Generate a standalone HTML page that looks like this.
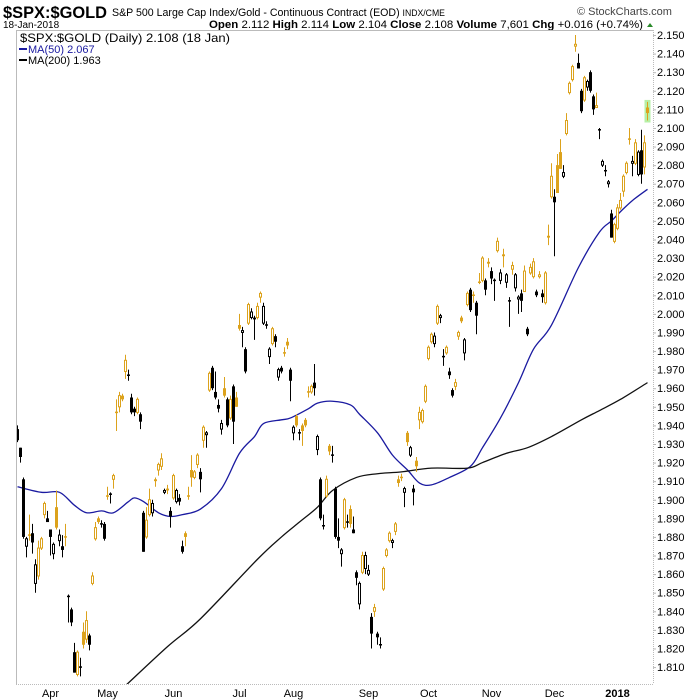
<!DOCTYPE html>
<html><head><meta charset="utf-8"><style>
body{margin:0;background:#fff;}
svg{display:block;font-family:"Liberation Sans",sans-serif;}
</style></head><body>
<svg id="chart" width="700" height="700" viewBox="0 0 700 700">
  <rect x="0" y="0" width="700" height="700" fill="#fff"/>
  <text x="3" y="18" font-size="17" font-weight="bold" fill="#000" textLength="104" lengthAdjust="spacingAndGlyphs">$SPX:$GOLD</text>
  <text x="112" y="16" font-size="11" fill="#000" textLength="333" lengthAdjust="spacingAndGlyphs">S&amp;P 500 Large Cap Index/Gold - Continuous Contract (EOD) <tspan font-size="9">INDX/CME</tspan></text>
  <text x="577" y="15" font-size="11" fill="#444">© StockCharts.com</text>
  <text x="3" y="28" font-size="10" fill="#000">18-Jan-2018</text>
  <text x="643" y="28" font-size="11" fill="#000" text-anchor="end" textLength="434" lengthAdjust="spacingAndGlyphs"><tspan font-weight="bold">Open</tspan> 2.112 <tspan font-weight="bold">High</tspan> 2.114 <tspan font-weight="bold">Low</tspan> 2.104 <tspan font-weight="bold">Close</tspan> 2.108 <tspan font-weight="bold">Volume</tspan> 7,601 <tspan font-weight="bold">Chg</tspan> +0.016 (+0.74%)</text>
  <polygon points="647,27 653,27 650,23" fill="#2a8a2a"/>
  <line x1="16" y1="30.5" x2="653" y2="30.5" stroke="#bbb"/>
  <line x1="16.5" y1="30" x2="16.5" y2="684" stroke="#bbb"/>
  <line x1="16" y1="684.5" x2="653" y2="684.5" stroke="#bbb" stroke-dasharray="1,1"/>
  <line x1="653.5" y1="30" x2="653.5" y2="684" stroke="#bbb" stroke-dasharray="1,1"/>
  <g id="yaxis"></g>
  <g id="xaxis"></g>
  <defs><clipPath id="plotclip"><rect x="17" y="31" width="636" height="653"/></clipPath></defs>
  <g clip-path="url(#plotclip)">
    <rect id="lasthl" fill="#b6f0a6"/>
    <g id="mas"></g>
    <g id="candles"></g>
  </g>
  <g>
    <text x="20" y="42" font-size="12" font-family="Liberation Sans" fill="#000" textLength="210" lengthAdjust="spacingAndGlyphs">$SPX:$GOLD (Daily) 2.108 (18 Jan)</text>
    <line x1="19" y1="49" x2="27" y2="49" stroke="#1a1aa0" stroke-width="2"/>
    <text x="28" y="53" font-size="11" fill="#1a1aa0">MA(50) 2.067</text>
    <line x1="19" y1="60" x2="27" y2="60" stroke="#000" stroke-width="2"/>
    <text x="28" y="64" font-size="11" fill="#000">MA(200) 1.963</text>
  </g>
</svg>
<script>
const opens=[1.938,1.928,1.911,1.875,1.881,1.882,1.855,1.859,1.874,1.892,
1.890,1.884,1.871,1.896,1.878,1.875,1.880,1.848,1.841,1.818,
1.806,1.810,1.829,1.825,1.827,1.855,1.879,1.890,1.887,1.887,
1.902,1.903,1.911,1.947,1.950,1.956,1.969,1.967,1.955,1.949,
1.947,1.946,1.893,1.880,1.892,1.893,1.911,1.916,1.918,1.904,
1.906,1.894,1.901,1.899,1.901,1.875,1.882,1.902,1.916,1.912,
1.919,1.915,1.932,1.935,1.959,1.971,1.958,1.951,1.938,1.960,
1.954,1.944,1.961,1.955,1.994,1.990,1.981,1.995,1.998,1.998,
1.998,2.009,1.995,1.994,1.977,1.984,1.988,1.966,1.971,1.979,
1.985,1.970,1.936,1.945,1.936,1.940,1.943,1.958,1.958,1.963,
1.927,1.911,1.886,1.902,1.929,1.924,1.906,1.880,1.871,1.885,
1.888,1.895,1.884,1.861,1.844,1.861,1.863,1.860,1.837,1.840,
1.828,1.822,1.852,1.870,1.878,1.877,1.883,1.911,1.912,1.904,
1.936,1.924,1.906,1.921,1.943,1.942,1.953,1.976,1.985,1.984,
1.995,1.998,1.977,1.979,1.969,1.959,1.961,1.988,1.998,1.979,
2.005,2.013,2.010,2.006,2.017,2.018,2.018,2.028,2.023,2.018,
2.034,2.018,2.032,2.017,2.007,2.024,2.014,2.008,2.011,2.012,
1.992,2.022,2.020,2.012,2.020,2.011,2.006,2.042,2.063,2.063,
2.080,2.087,2.074,2.097,2.119,2.126,2.144,2.135,2.120,2.115,
2.122,2.130,2.117,2.111,2.099,2.080,2.077,2.070,2.054,2.039,
2.046,2.057,2.066,2.076,2.094,2.081,2.081,2.075,2.088,2.079,2.111];
const highs=[1.940,1.928,1.912,1.880,1.892,1.887,1.868,1.878,1.880,1.899,
1.894,1.884,1.877,1.905,1.884,1.881,1.887,1.849,1.842,1.823,
1.819,1.815,1.834,1.840,1.828,1.861,1.888,1.891,1.889,1.888,
1.907,1.904,1.914,1.954,1.958,1.957,1.978,1.970,1.957,1.950,
1.955,1.947,1.894,1.896,1.906,1.900,1.912,1.920,1.925,1.906,
1.908,1.896,1.914,1.906,1.903,1.878,1.883,1.907,1.924,1.916,
1.925,1.917,1.940,1.937,1.969,1.972,1.969,1.954,1.943,1.966,
1.955,1.956,1.962,1.958,2.000,1.993,1.982,2.006,2.003,1.999,
2.006,2.012,2.006,1.996,1.982,1.993,1.989,1.971,1.972,1.982,
1.987,1.971,1.940,1.946,1.938,1.941,1.944,1.961,1.962,1.973,
1.935,1.912,1.892,1.913,1.930,1.929,1.907,1.890,1.874,1.901,
1.892,1.897,1.891,1.862,1.856,1.872,1.872,1.865,1.839,1.844,
1.829,1.826,1.864,1.874,1.883,1.879,1.888,1.913,1.914,1.907,
1.937,1.929,1.908,1.923,1.950,1.949,1.962,1.983,1.990,1.990,
2.005,2.000,1.981,1.983,1.971,1.960,1.965,1.991,1.999,1.987,
2.012,2.014,2.012,2.007,2.022,2.031,2.019,2.030,2.025,2.019,
2.041,2.024,2.035,2.022,2.009,2.028,2.022,2.010,2.013,2.026,
1.993,2.027,2.030,2.013,2.023,2.013,2.023,2.048,2.081,2.067,
2.086,2.094,2.080,2.108,2.125,2.134,2.150,2.140,2.121,2.128,
2.126,2.131,2.118,2.119,2.100,2.083,2.080,2.072,2.056,2.049,
2.059,2.065,2.075,2.082,2.100,2.085,2.094,2.088,2.099,2.096,2.114];
const lows=[1.931,1.920,1.879,1.869,1.878,1.871,1.850,1.857,1.873,1.890,
1.888,1.870,1.868,1.884,1.875,1.869,1.875,1.834,1.832,1.807,
1.805,1.805,1.820,1.823,1.819,1.854,1.878,1.887,1.885,1.878,
1.900,1.898,1.906,1.937,1.947,1.953,1.965,1.964,1.946,1.945,
1.946,1.938,1.872,1.879,1.891,1.891,1.907,1.913,1.916,1.903,
1.903,1.885,1.900,1.898,1.897,1.871,1.875,1.900,1.907,1.911,
1.917,1.904,1.928,1.928,1.958,1.959,1.954,1.947,1.935,1.955,
1.939,1.943,1.930,1.950,1.991,1.982,1.968,1.994,1.997,1.986,
1.997,2.006,1.994,1.992,1.973,1.983,1.982,1.964,1.968,1.977,
1.981,1.953,1.932,1.939,1.932,1.929,1.939,1.955,1.957,1.956,
1.924,1.889,1.884,1.901,1.924,1.920,1.879,1.874,1.864,1.884,
1.885,1.885,1.882,1.854,1.841,1.860,1.860,1.859,1.820,1.837,
1.822,1.820,1.851,1.869,1.877,1.874,1.881,1.907,1.910,1.896,
1.929,1.923,1.897,1.915,1.938,1.941,1.952,1.975,1.984,1.982,
1.994,1.995,1.972,1.978,1.965,1.955,1.959,1.986,1.995,1.975,
2.004,2.001,2.006,1.989,2.016,2.017,2.010,2.025,2.016,2.007,
2.033,2.016,2.025,2.014,1.993,2.021,2.012,2.000,2.001,2.012,
1.988,2.021,2.019,2.009,2.019,2.006,2.005,2.037,2.062,2.031,
2.065,2.078,2.073,2.096,2.118,2.125,2.141,2.132,2.108,2.114,
2.120,2.119,2.107,2.111,2.094,2.079,2.074,2.068,2.041,2.038,
2.045,2.056,2.063,2.075,2.091,2.074,2.080,2.074,2.070,2.075,2.104];
const closes=[1.932,1.923,1.880,1.879,1.881,1.877,1.865,1.874,1.879,1.898,
1.888,1.880,1.876,1.885,1.881,1.873,1.880,1.848,1.834,1.807,
1.818,1.810,1.822,1.835,1.822,1.859,1.885,1.888,1.887,1.879,
1.902,1.903,1.913,1.947,1.956,1.954,1.975,1.967,1.947,1.947,
1.954,1.942,1.872,1.889,1.900,1.898,1.910,1.919,1.922,1.905,
1.905,1.891,1.913,1.905,1.899,1.872,1.880,1.902,1.912,1.915,
1.924,1.911,1.939,1.936,1.968,1.960,1.955,1.949,1.941,1.956,
1.940,1.954,1.942,1.950,1.992,1.991,1.969,2.005,2.001,1.997,
2.004,2.011,2.004,1.994,1.981,1.992,1.985,1.970,1.969,1.979,
1.983,1.964,1.939,1.940,1.936,1.937,1.940,1.958,1.961,1.960,
1.934,1.890,1.886,1.911,1.926,1.924,1.880,1.878,1.873,1.900,
1.888,1.887,1.882,1.858,1.855,1.870,1.870,1.862,1.828,1.842,
1.826,1.822,1.863,1.873,1.882,1.878,1.887,1.909,1.912,1.906,
1.931,1.928,1.904,1.918,1.947,1.948,1.961,1.982,1.989,1.988,
2.004,1.999,1.977,1.982,1.967,1.956,1.963,1.990,1.996,1.986,
2.011,2.002,2.010,1.999,2.017,2.030,2.013,2.027,2.019,2.018,
2.039,2.022,2.031,2.021,2.007,2.026,2.021,2.009,2.007,2.023,
1.989,2.025,2.028,2.010,2.021,2.009,2.022,2.041,2.074,2.060,
2.065,2.078,2.076,2.104,2.124,2.133,2.145,2.132,2.109,2.127,
2.125,2.120,2.110,2.112,2.099,2.082,2.077,2.071,2.041,2.048,
2.057,2.061,2.074,2.081,2.094,2.082,2.092,2.087,2.075,2.092,2.108];
const upColors=[0,0,0,0,1,0,0,1,1,1, 0,0,0,1,0,0,1,0,0,0, 1,0,1,1,0,1,1,1,0,0,
1,0,1,1,1,1,1,0,0,0, 1,0,0,1,1,0,1,1,1,0, 1,0,1,0,0,0,1,1,1,1,
1,0,1,0,1,0,0,0,0,1, 0,1,0,1,1,0,0,1,0,0, 1,1,0,0,0,1,0,0,0,1,
1,0,0,1,0,1,1,1,1,0, 0,0,0,1,1,0,0,0,0,1, 0,1,0,0,0,1,0,0,0,1,
0,0,1,1,1,0,1,1,1,0, 1,0,0,1,1,1,1,1,1,0, 1,0,0,1,0,0,1,1,1,0,
1,0,1,0,1,1,0,1,0,0, 1,0,1,0,0,1,0,0,0,1, 0,1,1,0,1,0,1,1,1,0,
1,1,0,1,1,1,1,0,0,1, 0,0,0,1,0,0,0,0,0,1, 1,1,1,1,1,0,1,0,0,1,1];
const ma50Days=[0,8,14,19,23,28,32,37,39,42,47,51,55,61,68,74,79,82,88,91,97,100,105,111,114,120,125,130,134,138,144,151,155,161,167,172,178,187,194,198,201,205,210];
const ma50Values=[1.907,1.904,1.904,1.897,1.893,1.894,1.893,1.899,1.901,1.899,1.893,1.891,1.892,1.895,1.906,1.925,1.934,1.941,1.943,1.944,1.949,1.952,1.953,1.951,1.946,1.936,1.924,1.916,1.909,1.908,1.912,1.918,1.928,1.944,1.963,1.981,1.994,2.025,2.044,2.050,2.055,2.061,2.067];
const ma200Days=[36,50,61,80,88,94,100,105,113,120,128,138,150,155,163,170,178,188,194,201,210];
const ma200Values=[1.800,1.821,1.836,1.868,1.880,1.888,1.896,1.905,1.912,1.914,1.915,1.917,1.917,1.920,1.925,1.928,1.934,1.943,1.948,1.954,1.963];
const yTicks=[1.81,1.82,1.83,1.84,1.85,1.86,1.87,1.88,1.89,1.90,1.91,1.92,1.93,1.94,1.95,1.96,1.97,1.98,1.99,2.00,2.01,2.02,2.03,2.04,2.05,2.06,2.07,2.08,2.09,2.10,2.11,2.12,2.13,2.14,2.15];
const monthLabels=["Apr","May","Jun","Jul","Aug","Sep","Oct","Nov","Dec","2018"];
const monthDays=[11,30,52,74,92,117,137,158,179,200];

const NS="http://www.w3.org/2000/svg";
function xS(d){return 17+d*3+0.5;}
function yS(v){return 35+(2.150-v)*1859;}
const GOLD="#dca21c";
function mk(tag,attrs,parent){const e=document.createElementNS(NS,tag);for(const k in attrs)e.setAttribute(k,attrs[k]);parent.appendChild(e);return e;}

const yg=document.getElementById('yaxis');
yTicks.forEach(v=>{
  const t=mk('text',{x:657,y:yS(v)+4,'font-size':11,fill:'#000'},yg);
  
  
  t.textContent=v.toFixed(3);
  const l=mk('line',{x1:653,x2:656,y1:yS(v)+0.5,y2:yS(v)+0.5,stroke:'#bbb'},yg);
  
  
});
const xg=document.getElementById('xaxis');
monthLabels.forEach((m,i)=>{
  const t=mk('text',{x:xS(monthDays[i]),y:697,'font-size':11,fill:'#000','text-anchor':'middle'},xg);
  if(m==="2018")t.setAttribute('font-weight','bold');
  
  
  t.textContent=m;
});

const mg=document.getElementById('mas');
function maPath(days,vals,color,name){
  const pts=days.map((d,i)=>[xS(d),yS(vals[i])]);
  let d='M'+pts[0][0]+','+pts[0][1];
  for(let i=0;i<pts.length-1;i++){
    const p0=pts[Math.max(0,i-1)],p1=pts[i],p2=pts[i+1],p3=pts[Math.min(pts.length-1,i+2)];
    const c1x=p1[0]+(p2[0]-p0[0])/6,c1y=p1[1]+(p2[1]-p0[1])/6;
    const c2x=p2[0]-(p3[0]-p1[0])/6,c2y=p2[1]-(p3[1]-p1[1])/6;
    d+=' C'+c1x+','+c1y+' '+c2x+','+c2y+' '+p2[0]+','+p2[1];
  }
  const p=mk('path',{d:d,fill:'none',stroke:color,'stroke-width':1.3},mg);
  
  
}
maPath(ma50Days,ma50Values,'#1a1aa0','ma50-line');
maPath(ma200Days,ma200Values,'#111','ma200-line');

const cg=document.getElementById('candles');
const n=closes.length;
const hl=document.getElementById('lasthl');
hl.setAttribute('x',xS(n-1)-3);hl.setAttribute('width',6);
hl.setAttribute('y',yS(highs[n-1])-2);hl.setAttribute('height',yS(lows[n-1])-yS(highs[n-1])+4);
for(let i=0;i<n;i++){
  const c=upColors[i]?GOLD:'#000';
  const x=xS(i);
  const w=mk('line',{x1:x,x2:x,y1:yS(highs[i]),y2:yS(lows[i]),stroke:c,'stroke-width':1},cg);
  
  
  const o=opens[i],cl=closes[i];
  const top=yS(Math.max(o,cl)),bot=yS(Math.min(o,cl));
  let b;
  if(Math.abs(o-cl)<0.0005){
    b=mk('line',{x1:x-1.5,x2:x+1.5,y1:top,y2:top,stroke:c,'stroke-width':1.5},cg);
  }else if(cl>o){
    b=mk('rect',{x:x-1,y:top,width:2,height:Math.max(1,bot-top),fill:'#fff',stroke:c,'stroke-width':1},cg);
  }else{
    b=mk('rect',{x:x-1.5,y:top,width:3,height:Math.max(1,bot-top),fill:c},cg);
  }
  
  
}
</script>
</body></html>
